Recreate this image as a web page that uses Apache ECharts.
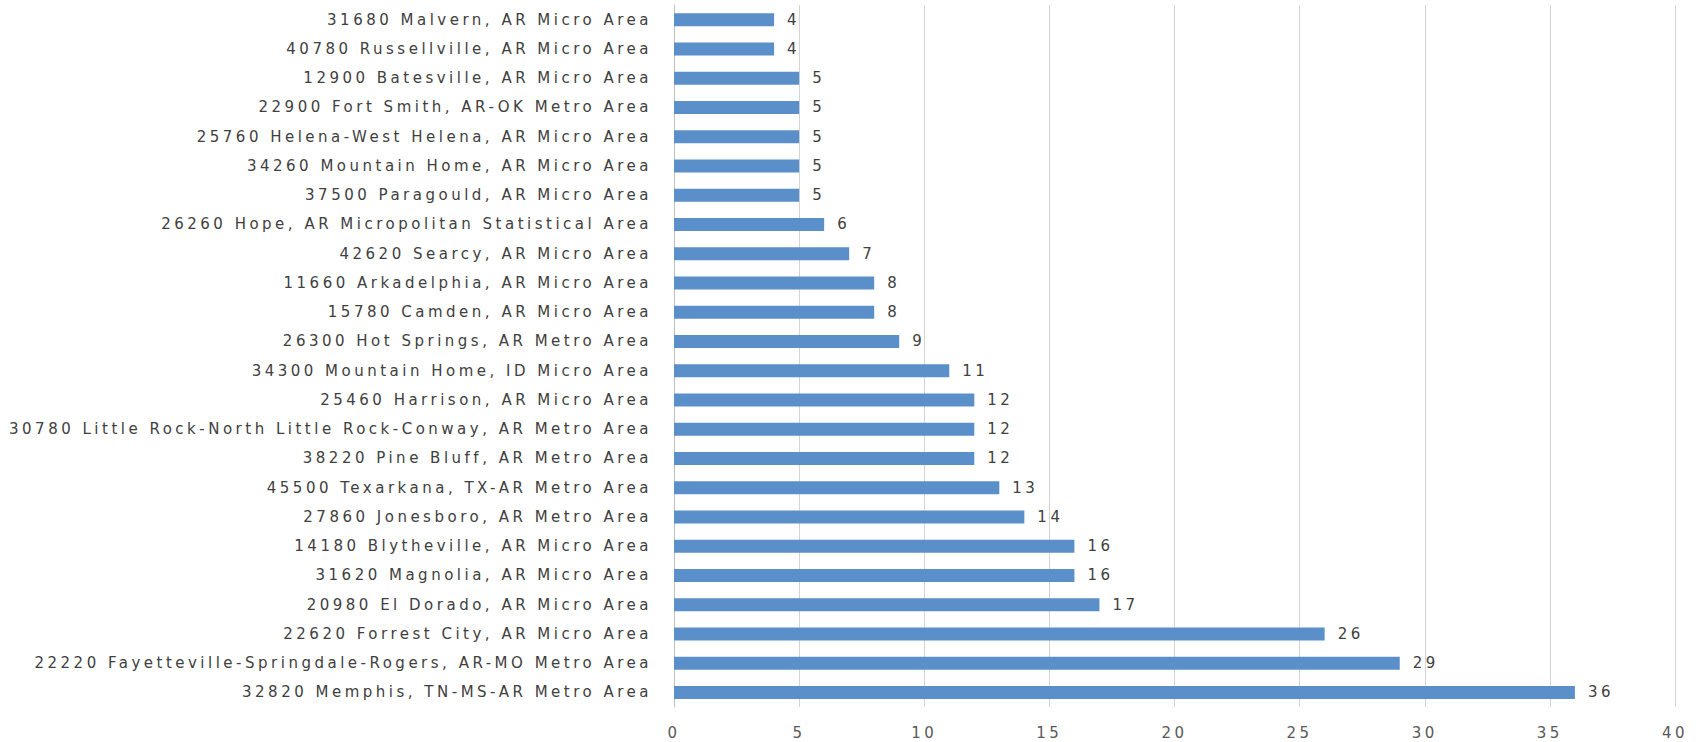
<!DOCTYPE html>
<html>
<head>
<meta charset="utf-8">
<script src="https://cdn.jsdelivr.net/npm/echarts@6/dist/echarts.min.js"></script>
<style>
  html, body { margin: 0; padding: 0; background: #ffffff; }
  #chart { width: 1707px; height: 742px; }
  /* wide, airy lettering for every label */
  #chart svg text { letter-spacing: 3.5px; }
</style>
</head>
<body>
<div id="chart"></div>
<script>
// Metro / micro areas, listed top to bottom
const areas = [
  '31680 Malvern, AR Micro Area',
  '40780 Russellville, AR Micro Area',
  '12900 Batesville, AR Micro Area',
  '22900 Fort Smith, AR-OK Metro Area',
  '25760 Helena-West Helena, AR Micro Area',
  '34260 Mountain Home, AR Micro Area',
  '37500 Paragould, AR Micro Area',
  '26260 Hope, AR Micropolitan Statistical Area',
  '42620 Searcy, AR Micro Area',
  '11660 Arkadelphia, AR Micro Area',
  '15780 Camden, AR Micro Area',
  '26300 Hot Springs, AR Metro Area',
  '34300 Mountain Home, ID Micro Area',
  '25460 Harrison, AR Micro Area',
  '30780 Little Rock-North Little Rock-Conway, AR Metro Area',
  '38220 Pine Bluff, AR Metro Area',
  '45500 Texarkana, TX-AR Metro Area',
  '27860 Jonesboro, AR Metro Area',
  '14180 Blytheville, AR Micro Area',
  '31620 Magnolia, AR Micro Area',
  '20980 El Dorado, AR Micro Area',
  '22620 Forrest City, AR Micro Area',
  '22220 Fayetteville-Springdale-Rogers, AR-MO Metro Area',
  '32820 Memphis, TN-MS-AR Metro Area'
];
const counts = [4, 4, 5, 5, 5, 5, 5, 6, 7, 8, 8, 9, 11, 12, 12, 12, 13, 14, 16, 16, 17, 26, 29, 36];
const xTicks = [0, 5, 10, 15, 20, 25, 30, 35, 40];

const FONT = 'DejaVu Sans';
const chart = echarts.init(document.getElementById('chart'), null, { renderer: 'svg' });
chart.setOption({
  animation: false,
  backgroundColor: '#ffffff',
  grid: { left: 674, right: 32, top: 5, bottom: 35, containLabel: false },
  xAxis: {
    type: 'value',
    min: xTicks[0],
    max: xTicks[xTicks.length - 1],
    interval: xTicks[1] - xTicks[0],
    axisLine: { show: false },
    axisTick: { show: false },
    splitLine: { show: true, lineStyle: { color: '#d4d4d4', width: 1 } },
    axisLabel: { color: '#595959', fontFamily: FONT, fontSize: 15, margin: 18 }
  },
  yAxis: {
    type: 'category',
    data: areas,
    inverse: true,
    axisLine: { show: true, lineStyle: { color: '#bfbfbf', width: 1 } },
    axisTick: { show: false },
    axisLabel: { color: '#404040', fontFamily: FONT, fontSize: 15, margin: 22 }
  },
  series: [{
    type: 'bar',
    data: counts,
    barWidth: 13,
    itemStyle: { color: '#5b8fc9' },
    label: {
      show: true,
      position: 'right',
      distance: 13,
      color: '#404040',
      fontFamily: FONT,
      fontSize: 15
    }
  }]
});
</script>
</body>
</html>
